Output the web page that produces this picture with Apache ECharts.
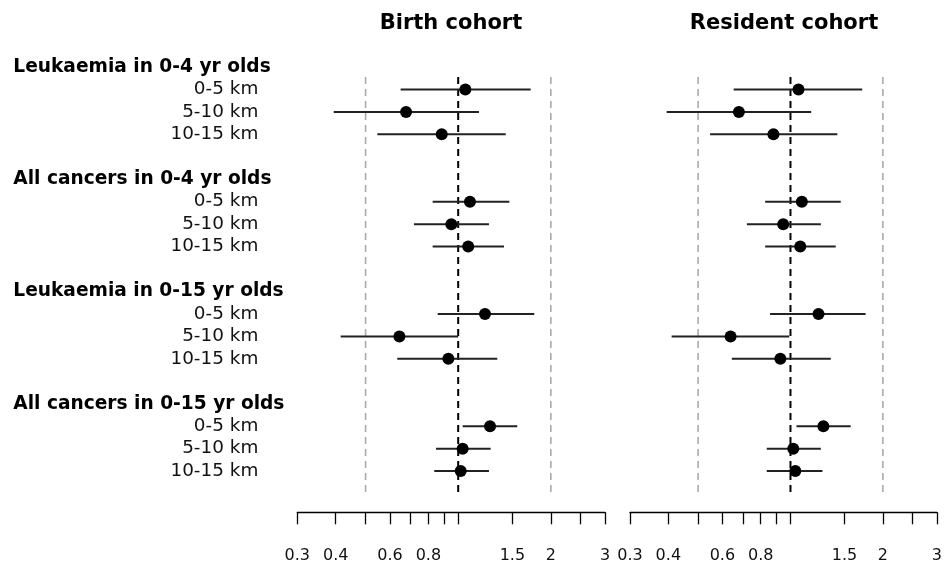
<!DOCTYPE html>
<html>
<head>
<meta charset="utf-8">
<script src="https://cdn.jsdelivr.net/npm/echarts@6/dist/echarts.min.js"></script>
<style>
  html, body { margin: 0; padding: 0; background: #fff; }
  #chart { width: 945px; height: 565px; }
</style>
</head>
<body>
<div id="chart"></div>
<script>
// Outcome groups and distance bands (rows of the forest plot)
const groupNames = [
  'Leukaemia in 0-4 yr olds',
  'All cancers in 0-4 yr olds',
  'Leukaemia in 0-15 yr olds',
  'All cancers in 0-15 yr olds'
];
const distanceBands = ['0-5 km', '5-10 km', '10-15 km'];

// Birth cohort: estimate with lower / upper confidence limits
const birthEstimate = [1.055, 0.677, 0.884, 1.092, 0.950, 1.078, 1.222, 0.644, 0.929, 1.269, 1.034, 1.019];
const birthLower    = [0.650, 0.394, 0.546, 0.826, 0.718, 0.826, 0.858, 0.415, 0.634, 1.034, 0.847, 0.836];
const birthUpper    = [1.720, 1.168, 1.427, 1.466, 1.259, 1.409, 1.767, 1.000, 1.340, 1.556, 1.275, 1.259];

// Resident cohort: estimate with lower / upper confidence limits
const residentEstimate = [1.062, 0.679, 0.880, 1.089, 0.947, 1.076, 1.234, 0.638, 0.927, 1.280, 1.021, 1.037];
const residentLower    = [0.653, 0.395, 0.547, 0.827, 0.721, 0.827, 0.858, 0.410, 0.644, 1.046, 0.837, 0.837];
const residentUpper    = [1.713, 1.168, 1.421, 1.458, 1.256, 1.404, 1.757, 0.991, 1.353, 1.571, 1.256, 1.271];

// Log-scale axis ticks and the subset that carries labels
const axisTickValues  = [0.3, 0.4, 0.5, 0.6, 0.7, 0.8, 0.9, 1, 1.5, 2, 2.5, 3];
const axisLabelValues = [0.3, 0.4, 0.6, 0.8, 1.5, 2, 3];

// Vertical reference lines
const referenceLines = [0.5, 1, 2];

// ---- layout helpers ----
const ROWS_PER_GROUP = 5;          // header + 3 bands + spacer
const rowOf = i => Math.floor(i / 3) * ROWS_PER_GROUP + 1 + (i % 3);
const refTop = 0.45, refBottom = 19.07;   // vertical extent of reference lines (row units)
const yMin = 0, yMax = 19.835;

const rowLabels = {};
groupNames.forEach((g, gi) => {
  rowLabels[gi * ROWS_PER_GROUP] = { text: g, header: true };
  distanceBands.forEach((d, di) => {
    rowLabels[gi * ROWS_PER_GROUP + 1 + di] = { text: d, header: false };
  });
});
const labelRows = Object.keys(rowLabels).map(Number);

const FONT = 'DejaVu Sans';

function fmtTick(v) {
  return String(Math.round(v * 100) / 100);
}

function xAxisFor(gridIndex) {
  return {
    type: 'log',
    logBase: 10,
    gridIndex,
    position: 'bottom',
    min: 0.3,
    max: 3,
    axisLine: { show: true, onZero: false, lineStyle: { color: '#000', width: 1.3 } },
    axisTick: { show: true, length: 12, inside: false, customValues: axisTickValues,
                lineStyle: { color: '#000', width: 1.3 } },
    axisLabel: { show: true, customValues: axisLabelValues, margin: 36,
                 formatter: fmtTick, fontFamily: FONT, fontSize: 16, color: '#111' },
    splitLine: { show: false },
    minorTick: { show: false }
  };
}

function yAxisFor(gridIndex, withLabels) {
  return {
    type: 'value',
    gridIndex,
    inverse: true,
    min: yMin,
    max: yMax,
    axisLine: { show: false },
    axisTick: { show: false },
    splitLine: { show: false },
    axisLabel: withLabels ? {
      show: true,
      customValues: labelRows,
      margin: 39,
      formatter: v => {
        const r = rowLabels[Math.round(v)];
        if (!r) return '';
        return r.header ? '{h|' + r.text + '}' : '{s|' + r.text + '}';
      },
      rich: {
        h: { fontFamily: FONT, fontWeight: 'bold', fontSize: 18.6, color: '#000',
             width: 245, align: 'left' },
        s: { fontFamily: FONT, fontSize: 18.4, color: '#111', align: 'right' }
      }
    } : { show: false }
  };
}

function cohortSeries(gridIndex, est, lo, hi) {
  const idx = gridIndex;
  const ciData = est.map((_, i) => [lo[i], hi[i], rowOf(i)]);
  const ptData = est.map((v, i) => [v, rowOf(i)]);
  const out = [];
  referenceLines.forEach(v => {
    const isNull = v === 1;
    out.push({
      type: 'line',
      xAxisIndex: idx, yAxisIndex: idx,
      data: [[v, refTop], [v, refBottom]],
      symbol: 'none',
      silent: true,
      lineStyle: { color: isNull ? '#000' : '#aaa', width: isNull ? 2 : 1.6, type: [7, 5] },
      z: 1
    });
  });
  out.push({
    type: 'custom',
    xAxisIndex: idx, yAxisIndex: idx,
    data: ciData,
    encode: { x: [0, 1], y: 2 },
    renderItem: (params, api) => {
      const a = api.coord([api.value(0), api.value(2)]);
      const b = api.coord([api.value(1), api.value(2)]);
      return {
        type: 'line',
        shape: { x1: a[0], y1: a[1], x2: b[0], y2: b[1] },
        style: { stroke: '#222', lineWidth: 2 }
      };
    },
    z: 2
  });
  out.push({
    type: 'scatter',
    xAxisIndex: idx, yAxisIndex: idx,
    data: ptData,
    symbol: 'circle',
    symbolSize: 12,
    itemStyle: { color: '#000', opacity: 1 },
    z: 3
  });
  return out;
}

const chart = echarts.init(document.getElementById('chart'), null, { renderer: 'canvas' });
chart.setOption({
  animation: false,
  backgroundColor: '#fff',
  title: [
    { text: 'Birth cohort', left: 451, top: 13, textAlign: 'center', padding: 0,
      textStyle: { fontFamily: FONT, fontWeight: 'bold', fontSize: 21, color: '#000' } },
    { text: 'Resident cohort', left: 784, top: 13, textAlign: 'center', padding: 0,
      textStyle: { fontFamily: FONT, fontWeight: 'bold', fontSize: 21, color: '#000' } }
  ],
  grid: [
    { left: 297.3, width: 307.7, top: 67, height: 445.3, containLabel: false },
    { left: 630, width: 308.3, top: 67, height: 445.3, containLabel: false }
  ],
  xAxis: [xAxisFor(0), xAxisFor(1)],
  yAxis: [yAxisFor(0, true), yAxisFor(1, false)],
  series: [
    ...cohortSeries(0, birthEstimate, birthLower, birthUpper),
    ...cohortSeries(1, residentEstimate, residentLower, residentUpper)
  ]
});
</script>
</body>
</html>
